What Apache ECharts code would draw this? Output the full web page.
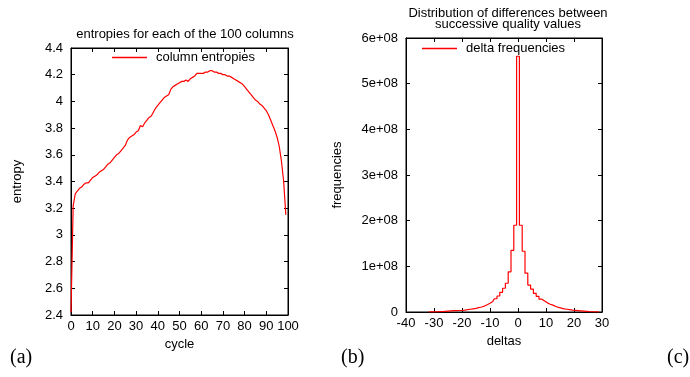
<!DOCTYPE html>
<html><head><meta charset="utf-8">
<script src="https://cdn.jsdelivr.net/npm/echarts@6/dist/echarts.min.js"></script>
<style>html,body{margin:0;padding:0;background:#fff}#c{width:690px;height:377px}</style>
</head><body><div id="c"></div>
<script>
// Left chart: column entropies per cycle (0..99)
const cycles = Array.from({length:100},(_,i)=>i);
const entropies = [
2.42,3.22,3.31,3.33,3.35,3.36,3.38,3.39,3.39,3.41,
3.43,3.44,3.45,3.47,3.48,3.49,3.51,3.53,3.54,3.56,
3.58,3.60,3.61,3.63,3.65,3.67,3.71,3.73,3.74,3.75,
3.77,3.78,3.82,3.81,3.84,3.86,3.88,3.89,3.92,3.95,
3.97,3.99,4.01,4.03,4.04,4.05,4.09,4.11,4.12,4.13,
4.14,4.15,4.15,4.16,4.15,4.17,4.18,4.19,4.21,4.21,
4.21,4.21,4.22,4.22,4.23,4.23,4.22,4.22,4.21,4.21,
4.20,4.20,4.19,4.19,4.18,4.17,4.16,4.15,4.14,4.13,
4.11,4.09,4.07,4.05,4.03,4.01,4.00,3.98,3.97,3.95,
3.93,3.90,3.86,3.82,3.78,3.73,3.66,3.55,3.40,3.15];

// Right chart: delta histogram (bins centred on integers, -32..29)
const deltas = [];
for (let d=-32; d<=29; d++) deltas.push(d);
const deltaFreq = [ // in units of 1e8
// -32 .. -1
0,0.001,0.002,0.004,0.007,0.01,0.015,0.02,0.025,0.028,
0.03,0.033,0.037,0.042,0.05,0.06,0.07,0.08,0.095,0.11,
0.13,0.16,0.19,0.23,0.29,0.35,0.43,0.52,0.63,0.88,
1.35,1.9,
// 0
5.6,
// 1 .. 29
1.9,1.33,0.85,0.59,0.5,0.41,0.34,0.28,0.24,0.2,
0.17,0.15,0.12,0.1,0.085,0.07,0.06,0.05,0.04,0.035,
0.03,0.025,0.02,0.015,0.01,0.006,0.003,0.001,0];

const FONT = 'Liberation Sans';
const RED = '#ff0000';
const chart = echarts.init(document.getElementById('c'));

const lbl = {color:'#000', fontFamily:FONT, fontSize:13};
function axisCommon(extra){
  return Object.assign({
    axisLine:{show:true, onZero:false, lineStyle:{color:'#000', width:1}},
    axisTick:{show:true, inside:true, length:4, lineStyle:{color:'#000'}},
    splitLine:{show:false},
    nameTextStyle:{color:'#000', fontFamily:FONT, fontSize:13},
  }, extra);
}

chart.setOption({
  animation:false,
  backgroundColor:'#fff',
  title:[
    {text:'entropies for each of the 100 columns', left:180, top:23, textAlign:'center',
     textStyle:{fontFamily:FONT, fontSize:13, fontWeight:'normal', color:'#000'}},
    {text:'Distribution of differences between\nsuccessive quality values', left:503, top:3, textAlign:'center',
     textStyle:{fontFamily:FONT, fontSize:13, fontWeight:'normal', color:'#000', lineHeight:11}}
  ],
  legend:[
    {left:107, top:46, icon:'rect', itemWidth:35, itemHeight:1.3, itemGap:0, data:['column entropies'],
     textStyle:{fontFamily:FONT, fontSize:13, color:'#000', padding:[0,0,0,4]}},
    {left:417, top:37, icon:'rect', itemWidth:35, itemHeight:1.3, itemGap:0, data:['delta frequencies'],
     textStyle:{fontFamily:FONT, fontSize:13, color:'#000', padding:[0,0,0,4]}}
  ],
  grid:[
    {left:71, top:48, width:217, height:267, show:true, borderColor:'#000', borderWidth:1},
    {left:406, top:38, width:196, height:274, show:true, borderColor:'#000', borderWidth:1}
  ],
  xAxis:[
    axisCommon({type:'value', gridIndex:0, min:0, max:100, interval:10, position:'bottom',
      name:'cycle', nameLocation:'middle', nameGap:20,
      axisLabel:Object.assign({margin:5}, lbl)}),
    axisCommon({type:'value', gridIndex:0, min:0, max:100, interval:10, position:'top',
      axisLabel:{show:false}}),
    axisCommon({type:'value', gridIndex:1, min:-40, max:30, interval:10, position:'bottom',
      name:'deltas', nameLocation:'middle', nameGap:22,
      axisLabel:Object.assign({margin:5}, lbl)}),
    axisCommon({type:'value', gridIndex:1, min:-40, max:30, interval:10, position:'top',
      axisLabel:{show:false}})
  ],
  yAxis:[
    axisCommon({type:'value', gridIndex:0, min:2.4, max:4.4, interval:0.2, position:'left',
      name:'entropy', nameLocation:'middle', nameGap:47,
      axisLabel:Object.assign({margin:8}, lbl)}),
    axisCommon({type:'value', gridIndex:0, min:2.4, max:4.4, interval:0.2, position:'right',
      axisLabel:{show:false}}),
    axisCommon({type:'value', gridIndex:1, min:0, max:6, interval:1, position:'left',
      name:'frequencies', nameLocation:'middle', nameGap:62,
      axisLabel:Object.assign({margin:8, formatter:v=> v===0?'0':(v+'e+08')}, lbl)}),
    axisCommon({type:'value', gridIndex:1, min:0, max:6, interval:1, position:'right',
      axisLabel:{show:false}})
  ],
  series:[
    {name:'column entropies', type:'line', xAxisIndex:0, yAxisIndex:0, symbol:'none',
     lineStyle:{color:RED, width:1.2}, itemStyle:{color:RED},
     data:cycles.map((c,i)=>[c, entropies[i]])},
    {name:'delta frequencies', type:'line', xAxisIndex:2, yAxisIndex:2, symbol:'none', step:'middle',
     lineStyle:{color:RED, width:1.2}, itemStyle:{color:RED},
     data:deltas.map((d,i)=>[d, deltaFreq[i]])}
  ],
  graphic:[
    {type:'text', left:10, top:348, style:{text:'(a)', fontFamily:'Liberation Serif', fontSize:20, fill:'#000'}},
    {type:'text', left:341, top:348, style:{text:'(b)', fontFamily:'Liberation Serif', fontSize:20, fill:'#000'}},
    {type:'text', left:667, top:348, style:{text:'(c)', fontFamily:'Liberation Serif', fontSize:20, fill:'#000'}}
  ]
});
</script></body></html>
